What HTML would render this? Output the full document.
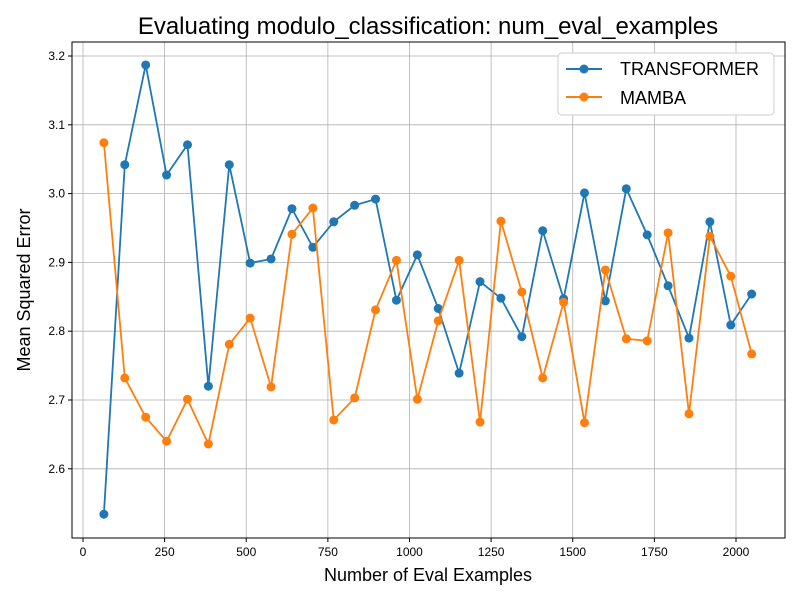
<!DOCTYPE html>
<html><head><meta charset="utf-8"><style>body{margin:0;background:#fff}svg{display:block}text{font-family:"Liberation Sans","DejaVu Sans",sans-serif}</style></head>
<body>
<svg id="chart" width="800" height="600" xmlns="http://www.w3.org/2000/svg">
<rect width="800" height="600" fill="#fff"/>
<text x="428" y="34" text-anchor="middle" font-size="24">Evaluating modulo_classification: num_eval_examples</text>
<text x="428" y="581" text-anchor="middle" font-size="18">Number of Eval Examples</text>
<text transform="translate(30,290) rotate(-90)" text-anchor="middle" font-size="18">Mean Squared Error</text>
<g id="grid"></g><g id="series"></g>
<rect x="72" y="42" width="713" height="496" fill="none" stroke="#000" stroke-width="1"/>
<g>
<rect x="558" y="53" width="216" height="62" rx="4" fill="#fff" stroke="#ccc"/>
<line x1="566" y1="69" x2="602" y2="69" stroke="#1f77b4" stroke-width="2"/><circle cx="584" cy="69" r="4.5" fill="#1f77b4"/>
<text x="620" y="75" font-size="18">TRANSFORMER</text>
<line x1="566" y1="97" x2="602" y2="97" stroke="#ff7f0e" stroke-width="2"/><circle cx="584" cy="97" r="4.5" fill="#ff7f0e"/>
<text x="620" y="104" font-size="18">MAMBA</text>
</g>
</svg>
<script>
const xValues=[64,128,192,256,320,384,448,512,576,640,704,768,832,896,960,1024,1088,1152,1216,1280,1344,1408,1472,1536,1600,1664,1728,1792,1856,1920,1984,2048];
const transformerValues=[2.534,3.042,3.187,3.027,3.071,2.720,3.042,2.899,2.905,2.978,2.922,2.959,2.983,2.992,2.845,2.911,2.833,2.739,2.872,2.848,2.792,2.946,2.847,3.001,2.844,3.007,2.940,2.866,2.790,2.959,2.809,2.854];
const mambaValues=[3.074,2.732,2.675,2.640,2.701,2.636,2.781,2.819,2.719,2.941,2.979,2.671,2.703,2.831,2.903,2.701,2.815,2.903,2.668,2.960,2.857,2.732,2.842,2.667,2.889,2.789,2.786,2.943,2.680,2.938,2.880,2.767];
const xTicks=[0,250,500,750,1000,1250,1500,1750,2000];
const yTicks=[2.6,2.7,2.8,2.9,3.0,3.1,3.2];
const yTickLabels=["2.6","2.7","2.8","2.9","3.0","3.1","3.2"];
const NS="http://www.w3.org/2000/svg";
function xs(v){return 83+v*0.3265;}
function ys(v){return 56+(3.2-v)*688;}
function mk(tag,attrs,parent){const e=document.createElementNS(NS,tag);for(const k in attrs)e.setAttribute(k,attrs[k]);parent.appendChild(e);return e;}
const grid=document.getElementById('grid'),ser=document.getElementById('series');
xTicks.forEach(t=>{const x=xs(t);
 const l=mk('line',{x1:x,x2:x,y1:42,y2:538,stroke:'#b0b0b0','stroke-width':0.8},grid);
 
 
 mk('line',{x1:x,x2:x,y1:538,y2:542,stroke:'#000'},grid);
 const tx=mk('text',{x:x,y:556,'text-anchor':'middle','font-size':12},grid);tx.textContent=t;
 
 });
yTicks.forEach((t,i)=>{const y=ys(t);
 const l=mk('line',{x1:72,x2:785,y1:y,y2:y,stroke:'#b0b0b0','stroke-width':0.8},grid);
 
 
 mk('line',{x1:68,x2:72,y1:y,y2:y,stroke:'#000'},grid);
 const tx=mk('text',{x:65,y:y+4,'text-anchor':'end','font-size':12},grid);tx.textContent=yTickLabels[i];
 
 });
function draw(vals,color,name){
 const pts=vals.map((v,i)=>xs(xValues[i])+','+ys(v)).join(' ');
 const pl=mk('polyline',{points:pts,fill:'none',stroke:color,'stroke-width':1.8},ser);
 
 
 vals.forEach((v,i)=>{const c=mk('circle',{cx:xs(xValues[i]),cy:ys(v),r:4.5,fill:color},ser);
  
  });
}
draw(transformerValues,'#1f77b4','transformer');
draw(mambaValues,'#ff7f0e','mamba');
</script>
</body></html>
